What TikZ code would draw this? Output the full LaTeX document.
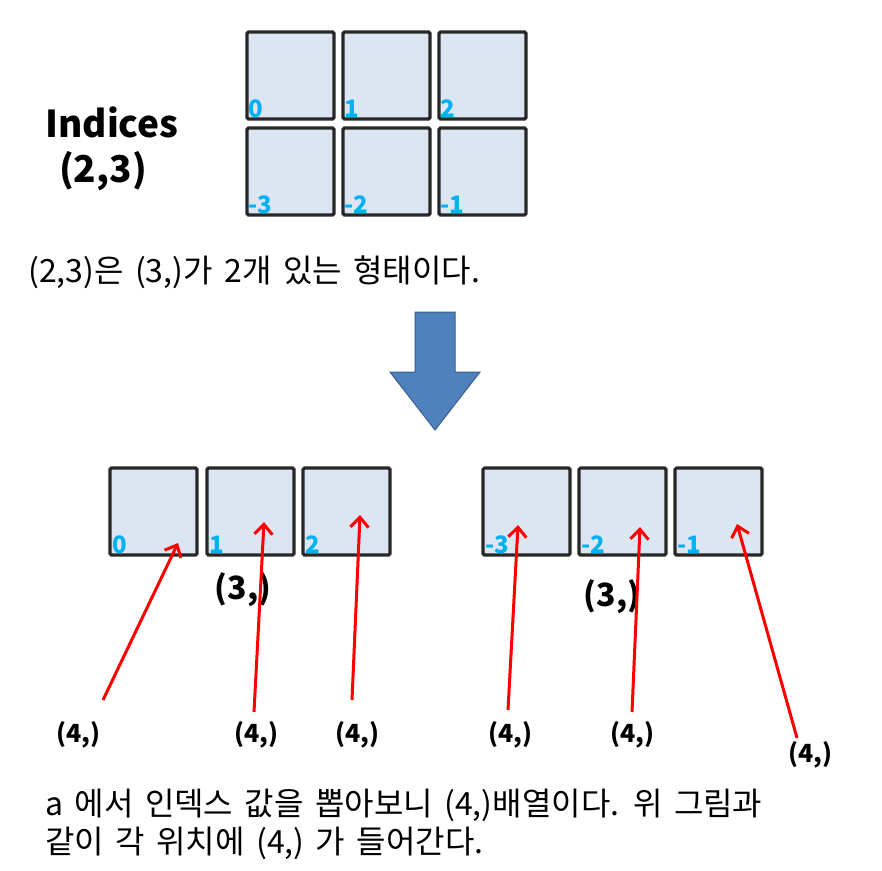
\documentclass[tikz,border=0pt]{standalone}
\usepackage{fontspec}
\setmainfont{Noto Sans CJK KR}[WordSpace={1.6,0,0}]
\usetikzlibrary{arrows.meta,shapes.arrows}
\definecolor{boxfill}{RGB}{220,230,242}
\definecolor{boxline}{RGB}{40,40,40}
\definecolor{idxblue}{RGB}{0,176,240}
\definecolor{bigarrow}{RGB}{79,129,189}
\definecolor{bigarrowline}{RGB}{56,93,138}
\tikzset{
  cell/.style={draw=boxline, fill=boxfill, line width=3.2pt, rounded corners=1.5pt},
  idx/.style={text=idxblue, font=\fontsize{24}{24}\selectfont\bfseries, anchor=south west, inner sep=1pt},
  bigbold/.style={font=\fontsize{37}{37}\selectfont\bfseries, inner sep=0pt},
  shapelbl/.style={font=\fontsize{32}{32}\selectfont\bfseries, inner sep=0pt},
  fourlbl/.style={font=\fontsize{25}{25}\selectfont\bfseries, inner sep=0pt},
  body/.style={font=\fontsize{32}{36}\selectfont, inner sep=0pt, anchor=west},
  redarrow/.style={draw=red, line width=3pt, -{Straight Barb[length=10pt,width=18pt,line width=3pt]}}
}
\begin{document}
\begin{tikzpicture}[x=1pt,y=-1pt]
\useasboundingbox (0,0) rectangle (882,870);
% top grid
\foreach \n/\x/\y/\l in {t0/247/32/0, t1/343/32/1, t2/439/32/2, t3/247/128/-3, t4/343/128/-2, t5/439/128/-1}{
  \draw[cell] (\x,\y) rectangle ++(87,87);
  \node[idx] (\n) at (\x,\y+87) {\l};
}
\node[bigbold] (ind) at (112,122) {Indices};
\node[bigbold] (ind2) at (103,171) {(2,3)};
\node[body] (txt1) at (28,272) {(2,3)은 (3,)가 2개 있는 형태이다.};
% big arrow
\draw[fill=bigarrow, draw=bigarrowline, line width=1pt]
  (415,312) -- (455,312) -- (455,372) -- (480,372) -- (435,430) -- (390,372) -- (415,372) -- cycle;
% bottom boxes
\foreach \n/\x/\l in {b0/110/0, b1/207/1, b2/303/2, b3/483/-3, b4/579/-2, b5/675/-1}{
  \draw[cell] (\x,468) rectangle ++(87,87);
  \node[idx] (\n) at (\x+1,555) {\l};
}
\node[shapelbl] (s1) at (243,590) {(3,)};
\node[shapelbl] (s2) at (612,597) {(3,)};
% (4,) labels
\node[fourlbl] (f0) at (78,735) {(4,)};
\node[fourlbl] (f1) at (256,735) {(4,)};
\node[fourlbl] (f2) at (357,735) {(4,)};
\node[fourlbl] (f3) at (510,735) {(4,)};
\node[fourlbl] (f4) at (632,735) {(4,)};
\node[fourlbl] (f5) at (810,755) {(4,)};
\coordinate (a0s) at (103,700); \coordinate (a0e) at (178,543);
\coordinate (a1s) at (254,712); \coordinate (a1e) at (264,522);
\coordinate (a2s) at (352,700); \coordinate (a2e) at (360,515);
\coordinate (a3s) at (508,710); \coordinate (a3e) at (518,525);
\coordinate (a4s) at (632,712); \coordinate (a4e) at (640,527);
\coordinate (a5s) at (797,738); \coordinate (a5e) at (737,524);
\foreach \i in {0,...,5}{ \draw[redarrow] (a\i s) -- (a\i e); }
\node[body] (txt2) at (45,805) {a 에서 인덱스 값을 뽑아보니 (4,)배열이다. 위 그림과};
\node[body] (txt3) at (45,843) {같이 각 위치에 (4,) 가 들어간다.};
\end{tikzpicture}
\end{document}
